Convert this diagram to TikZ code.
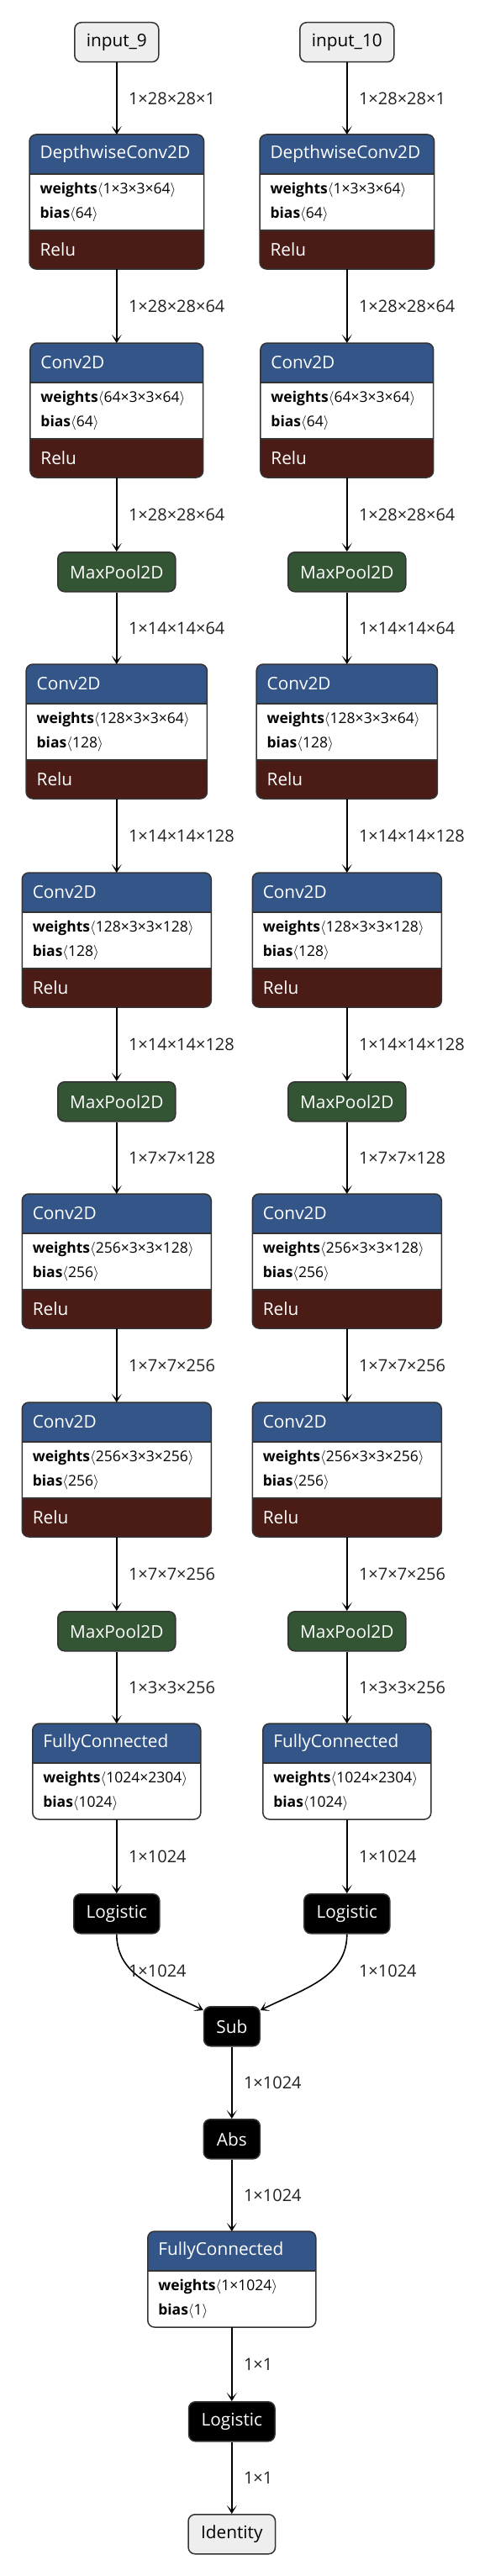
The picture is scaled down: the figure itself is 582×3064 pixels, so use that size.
\documentclass[tikz,border=0pt]{standalone}
\usepackage{fontspec}
\setmainfont{Open Sans}
\usetikzlibrary{positioning,arrows.meta,calc}
\definecolor{nnBlue}{RGB}{51,85,136}
\definecolor{nnRelu}{RGB}{75,27,22}
\definecolor{nnPool}{RGB}{51,85,51}
\definecolor{nnBorder}{RGB}{51,51,51}
\definecolor{nnInput}{RGB}{238,238,238}
\definecolor{nnLabel}{RGB}{34,34,34}

\newcommand{\hdfont}{\fontsize{20.8}{24}\selectfont}
\newcommand{\atfont}{\fontsize{17.5}{29}\selectfont}
\newcommand{\lbfont}{\fontsize{20}{24}\selectfont}

% conv block: name, x, top, width, title, weights, bias
\newcommand{\convblock}[7]{%
  \pgfmathsetmacro{\lw}{#4-25}
  \node[laybox, minimum width=#4pt, minimum height=160pt] (#1) at (#2,#3) {};
  \begin{scope}
    \clip[rounded corners=8pt] (#1.north west) rectangle (#1.south east);
    \node[layhead, text width=\lw pt, below=0pt of #1.north] (#1-t) {#5};
    \node[layattr, text width=\lw pt, below=0pt of #1-t] (#1-a) {\textbf{weights}$\langle$#6$\rangle$\\\textbf{bias}$\langle$#7$\rangle$};
    \node[layact, text width=\lw pt, below=0pt of #1-a] (#1-r) {Relu};
  \end{scope}
  \draw[layline] (#1-t.south west) -- (#1-t.south east) (#1-a.south west) -- (#1-a.south east);
  \draw[layframe] (#1.north west) rectangle (#1.south east);
}

% dense block: name, x, top, width, weights, bias
\newcommand{\fcblock}[6]{%
  \pgfmathsetmacro{\lw}{#4-25}
  \node[laybox, minimum width=#4pt, minimum height=114pt] (#1) at (#2,#3) {};
  \begin{scope}
    \clip[rounded corners=8pt] (#1.north west) rectangle (#1.south east);
    \node[layhead, text width=\lw pt, below=0pt of #1.north] (#1-t) {FullyConnected};
    \node[layattr, text width=\lw pt, below=0pt of #1-t] (#1-a) {\textbf{weights}$\langle$#5$\rangle$\\\textbf{bias}$\langle$#6$\rangle$};
  \end{scope}
  \draw[layline] (#1-t.south west) -- (#1-t.south east);
  \draw[layframe] (#1.north west) rectangle (#1.south east);
}

\tikzset{
  edge/.style={draw=black, line width=1.6pt, -{Stealth[length=10pt,width=12pt,inset=6pt]}},
  dimlbl/.style={font=\lbfont, text=nnLabel, anchor=west, xshift=12.4pt, inner sep=1pt},
  opbox/.style={draw=nnBorder, line width=1.5pt, rounded corners=8pt, minimum height=47pt, inner sep=0pt, font=\hdfont, anchor=north},
  inbox/.style={opbox, fill=nnInput, text=black},
  poolbox/.style={opbox, fill=nnPool, text=white},
  actbox/.style={opbox, fill=black, text=white},
  laybox/.style={inner sep=0pt, outer sep=0pt, anchor=north},
  laysec/.style={inner xsep=12.5pt, inner ysep=0pt, outer sep=0pt, align=left},
  layhead/.style={laysec, fill=nnBlue, text=white, font=\hdfont, minimum height=47pt},
  layattr/.style={laysec, fill=white, text=black, font=\atfont, minimum height=67pt},
  layact/.style={laysec, fill=nnRelu, text=white, font=\hdfont, minimum height=46pt},
  layline/.style={draw=nnBorder, line width=1.2pt},
  layframe/.style={draw=nnBorder, line width=1.5pt, rounded corners=8pt},
}

\begin{document}
\begin{tikzpicture}[x=1pt, y=-1pt]
  \path[fill=white, use as bounding box] (0,0) rectangle (582,3064);

  % the two identical branches
  \foreach \c/\x/\inp/\iw in {1/138.8/input\_9/100, 2/412.8/input\_10/112} {
    \node[inbox, minimum width=\iw pt] (in\c) at (\x,26) {\inp};
    \convblock{dw\c}{\x}{160}{207.5}{DepthwiseConv2D}{1×3×3×64}{64}
    \convblock{cva\c}{\x}{408}{205.7}{Conv2D}{64×3×3×64}{64}
    \node[poolbox, minimum width=140pt] (mpa\c) at (\x,656) {MaxPool2D};
    \convblock{cvb\c}{\x}{790}{215.3}{Conv2D}{128×3×3×64}{128}
    \convblock{cvc\c}{\x}{1038}{225}{Conv2D}{128×3×3×128}{128}
    \node[poolbox, minimum width=140pt] (mpb\c) at (\x,1286) {MaxPool2D};
    \convblock{cvd\c}{\x}{1420}{225}{Conv2D}{256×3×3×128}{256}
    \convblock{cve\c}{\x}{1668}{225}{Conv2D}{256×3×3×256}{256}
    \node[poolbox, minimum width=140pt] (mpc\c) at (\x,1916) {MaxPool2D};
    \fcblock{fc\c}{\x}{2050}{200}{1024×2304}{1024}
    \node[actbox, minimum width=102pt] (lg\c) at (\x,2252) {Logistic};

    \draw[edge] (in\c) -- node[dimlbl] {1×28×28×1} (dw\c);
    \draw[edge] (dw\c) -- node[dimlbl] {1×28×28×64} (cva\c);
    \draw[edge] (cva\c) -- node[dimlbl] {1×28×28×64} (mpa\c);
    \draw[edge] (mpa\c) -- node[dimlbl] {1×14×14×64} (cvb\c);
    \draw[edge] (cvb\c) -- node[dimlbl] {1×14×14×128} (cvc\c);
    \draw[edge] (cvc\c) -- node[dimlbl] {1×14×14×128} (mpb\c);
    \draw[edge] (mpb\c) -- node[dimlbl] {1×7×7×128} (cvd\c);
    \draw[edge] (cvd\c) -- node[dimlbl] {1×7×7×256} (cve\c);
    \draw[edge] (cve\c) -- node[dimlbl] {1×7×7×256} (mpc\c);
    \draw[edge] (mpc\c) -- node[dimlbl] {1×3×3×256} (fc\c);
    \draw[edge] (fc\c) -- node[dimlbl] {1×1024} (lg\c);
  }

  % merged head
  \node[actbox, minimum width=66.5pt] (sub) at (275.8,2386) {Sub};
  \node[actbox, minimum width=67pt] (abs) at (275.8,2520) {Abs};
  \fcblock{fc3}{275.8}{2654}{200}{1×1024}{1}
  \node[actbox, minimum width=102.5pt] (lg3) at (275.8,2856) {Logistic};
  \node[inbox, minimum width=103.5pt] (out) at (275.8,2990) {Identity};

  \draw[edge] (lg1.south) .. controls +(0,52) and +(-50,-25) .. ([yshift=-5pt]sub.north west)
    node[dimlbl, at start, yshift=-44pt] {1×1024};
  \draw[edge] (lg2.south) .. controls +(0,52) and +(50,-25) .. ([yshift=-5pt]sub.north east)
    node[dimlbl, at start, yshift=-44pt] {1×1024};
  \draw[edge] (sub) -- node[dimlbl] {1×1024} (abs);
  \draw[edge] (abs) -- node[dimlbl] {1×1024} (fc3);
  \draw[edge] (fc3) -- node[dimlbl] {1×1} (lg3);
  \draw[edge] (lg3) -- node[dimlbl] {1×1} (out);
\end{tikzpicture}
\end{document}
